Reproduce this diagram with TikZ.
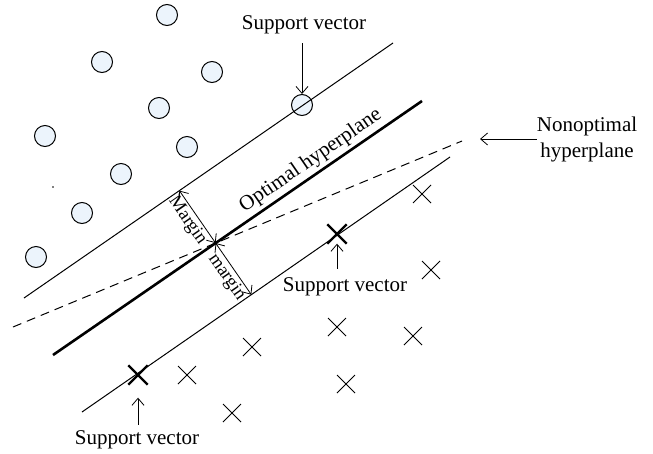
\documentclass[tikz,border=0pt]{standalone}
\usepackage{fontspec}
\setmainfont{Liberation Serif}
\usepackage{xcolor}
\usetikzlibrary{arrows, arrows.meta}
\usetikzlibrary{calc}
\usetikzlibrary{shapes.misc}

\definecolor{dotfill}{RGB}{236,244,252}

\begin{document}
\begin{tikzpicture}[x=1pt, y=-1pt,
    classa/.style={circle, draw, line width=1pt, fill=dotfill, inner sep=0pt, minimum size=21pt},
    classb/.style={cross out, draw, line width=1pt, inner sep=0pt, minimum size=17pt},
    svcross/.style={cross out, draw, line width=2.4pt, inner sep=0pt, minimum size=17pt},
    lbl/.style={font=\fontsize{21}{26}\selectfont, inner sep=0pt},
    marginlbl/.style={font=\fontsize{18.5}{22}\selectfont, inner sep=0pt},
    >={Straight Barb[length=7pt, width=12pt]}]
      \useasboundingbox (0,0) rectangle (653,453);

      \node[classa] (c1) at (167,15) {};
      \node[classa] (c2) at (102,62) {};
      \node[classa] (c3) at (212,72) {};
      \node[classa] (c4) at (159,108) {};
      \node[classa] (c5) at (45,136) {};
      \node[classa] (c6) at (187,147) {};
      \node[classa] (c7) at (121,174) {};
      \node[classa] (c8) at (82,213) {};
      \node[classa] (c9) at (36,257) {};
      \node[classa] (c10) at (302,105) {};
      \fill (53,187) circle (0.9);

      \node[classb] (x1) at (422,194) {};
      \node[classb] (x2) at (431,270) {};
      \node[classb] (x3) at (252,347) {};
      \node[classb] (x4) at (337,327) {};
      \node[classb] (x5) at (413,336) {};
      \node[classb] (x6) at (187,375) {};
      \node[classb] (x7) at (346,384) {};
      \node[classb] (x8) at (232,413) {};
      \node[svcross] (x9) at (337,234) {};
      \node[svcross] (x10) at (138,375) {};

      \coordinate (u1) at (24,298);
      \coordinate (u2) at (393,43);
      \coordinate (h1) at (53,355);
      \coordinate (h2) at (422,101);
      \coordinate (d1) at (13,327);
      \coordinate (d2) at (462,141);
      \coordinate (l1) at (82,412);
      \coordinate (l2) at (450,157);

      \draw[line width=1pt] (u1) -- (u2);
      \draw[line width=2.6pt] (h1) -- node[lbl, sloped, above=3pt, pos=0.72] {Optimal hyperplane} (h2);
      \draw[line width=1pt, dash pattern=on 9pt off 6pt] (d1) -- (d2);
      \draw[line width=1pt] (l1) -- (l2);

      \coordinate (m) at (intersection of h1--h2 and d1--d2);
      \coordinate (mu) at ($(u1)!(m)!(u2)$);
      \coordinate (ml) at ($(l1)!(m)!(l2)$);
      \draw[<->, line width=0.8pt] (mu) -- node[marginlbl, sloped, below=2pt, pos=0.46] {Margin} (m);
      \draw[<->, line width=0.8pt] (m) -- node[marginlbl, sloped, below=2pt, pos=0.55] {margin} (ml);

      \node[lbl] (sv1) at (304,25) {Support vector};
      \node[lbl] (sv2) at (345,287) {Support vector};
      \node[lbl] (sv3) at (137,440) {Support vector};
      \node[lbl, align=center] (nop) at (587,139) {Nonoptimal\\hyperplane};
      \coordinate (nopend) at (480,139);

      \draw[->, line width=0.8pt] ($(sv1.south -| c10.north)+(0,9)$) -- (c10.north);
      \draw[->, line width=0.8pt] ($(sv2.north -| x9.south)+(0,-9)$) -- (x9.south);
      \draw[->, line width=0.8pt, shorten >=13pt] ($(sv3.north -| x10.south)+(0,-6)$) -- (x10.south);
      \draw[->, line width=0.8pt] (nop.west) -- (nopend);
    \end{tikzpicture}
\end{document}
